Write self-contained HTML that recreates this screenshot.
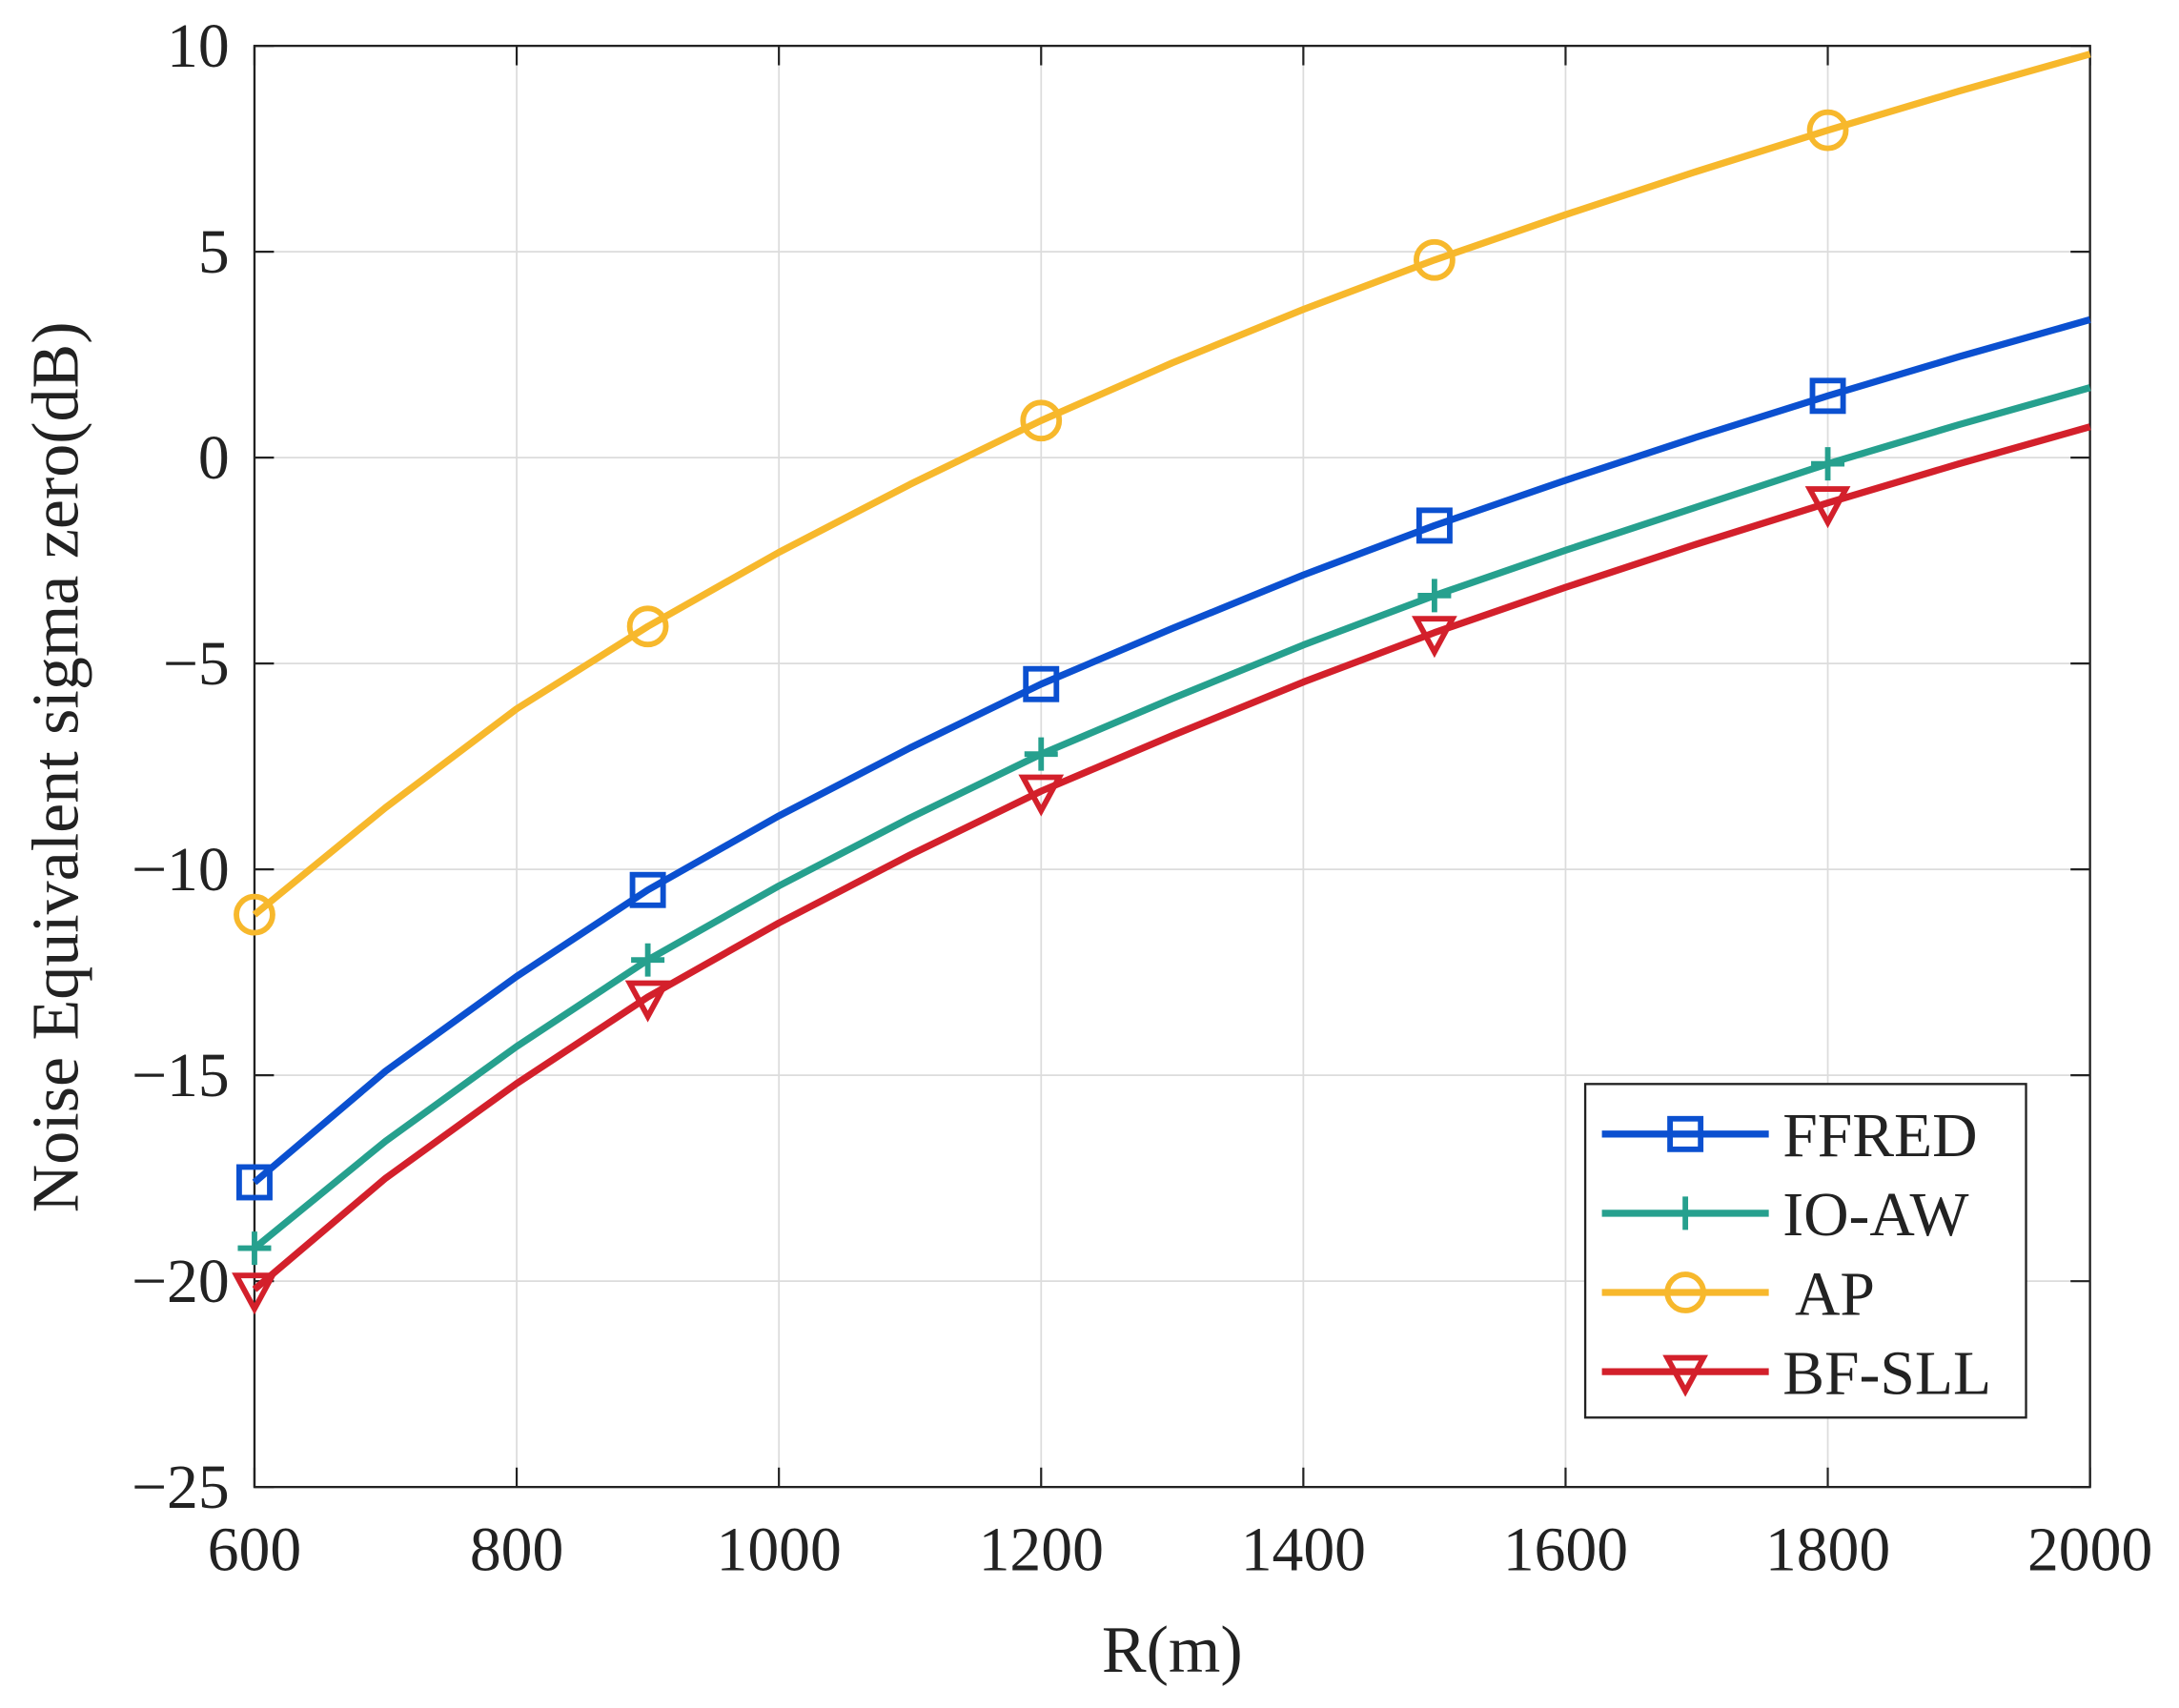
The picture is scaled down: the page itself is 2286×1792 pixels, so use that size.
<!DOCTYPE html><html><head><meta charset="utf-8"><style>body{margin:0;background:#fff}svg{display:block}</style></head><body>
<svg id="s" width="2286" height="1792" viewBox="0 0 1567 1229" preserveAspectRatio="none" xmlns="http://www.w3.org/2000/svg" font-family="Liberation Serif, serif"></svg>
<script>
const s=document.getElementById('s');let h='';
const X=v=>183+(v-600)/1400*1320, Y=v=>33+(10-v)/35*1037;
h+='<rect x="183" y="33" width="1320" height="1037" fill="#fff"/>';
for(let x=600;x<=2000;x+=200){h+=`<line x1="${X(x)}" x2="${X(x)}" y1="33" y2="1070" stroke="#dcdcdc" stroke-width="1.2"/>`;
h+=`<line x1="${X(x)}" x2="${X(x)}" y1="1070" y2="1056" stroke="#222" stroke-width="1.5"/><line x1="${X(x)}" x2="${X(x)}" y1="33" y2="47" stroke="#222" stroke-width="1.5"/>`;
h+=`<text x="${X(x)}" y="1130" font-size="45" text-anchor="middle" fill="#222">${x}</text>`;}
for(let y=-25;y<=10;y+=5){h+=`<line x1="183" x2="1503" y1="${Y(y)}" y2="${Y(y)}" stroke="#dcdcdc" stroke-width="1.2"/>`;
h+=`<line x1="183" x2="197" y1="${Y(y)}" y2="${Y(y)}" stroke="#222" stroke-width="1.5"/><line x1="1503" x2="1489" y1="${Y(y)}" y2="${Y(y)}" stroke="#222" stroke-width="1.5"/>`;
h+=`<text x="165" y="${Y(y)+15}" font-size="45" text-anchor="end" fill="#222">${y<0?'\u2212'+(-y):y}</text>`;}
h+='<rect x="183" y="33" width="1320" height="1037" fill="none" stroke="#222" stroke-width="1.6"/>';
const xs=[600,700,800,900,1000,1100,1200,1300,1400,1500,1600,1700,1800,1900,2000];
const D=[
['#f7b82c','c',[-11.1,-8.5,-6.1,-4.1,-2.3,-0.65,0.9,2.3,3.6,4.8,5.9,6.95,7.95,8.9,9.8]],
['#0b50d0','s',[-17.6,-14.9,-12.6,-10.5,-8.7,-7.05,-5.5,-4.15,-2.85,-1.65,-0.55,0.5,1.5,2.45,3.35]],
['#26a08e','p',[-19.2,-16.6,-14.3,-12.2,-10.4,-8.75,-7.2,-5.85,-4.55,-3.35,-2.25,-1.2,-0.15,0.8,1.7]],
['#d3202b','t',[-20.2,-17.5,-15.2,-13.1,-11.3,-9.65,-8.1,-6.75,-5.45,-4.25,-3.15,-2.1,-1.1,-0.15,0.75]]];
function mk(t,x,y,c){if(t=='c')return `<circle cx="${x}" cy="${y}" r="13" fill="none" stroke="${c}" stroke-width="4"/>`;
if(t=='s')return `<rect x="${x-11}" y="${y-11}" width="22" height="22" fill="none" stroke="${c}" stroke-width="4"/>`;
if(t=='p')return `<path d="M${x-12} ${y}H${x+12}M${x} ${y-12}V${y+12}" stroke="${c}" stroke-width="4"/>`;
return `<path d="M${x-13} ${y-10}H${x+13}L${x} ${y+14}Z" fill="none" stroke="${c}" stroke-width="4"/>`;}
for(const [c,t,v] of D){h+=`<polyline fill="none" stroke="${c}" stroke-width="5" stroke-linejoin="round" points="${xs.map((x,i)=>X(x)+','+Y(v[i])).join(' ')}"/>`;
for(const m of [0,3,6,9,12])h+=mk(t,X(xs[m]),Y(v[m]),c);}
h+='<rect x="1140" y="780" width="317" height="240" fill="#fff" stroke="#222" stroke-width="1.6"/>';
const L=[['FFRED','#0b50d0','s'],['IO-AW','#26a08e','p'],[' AP','#f7b82c','c'],['BF-SLL','#d3202b','t']];
L.forEach((l,i)=>{const y=816+i*57;h+=`<line x1="1152" x2="1272" y1="${y}" y2="${y}" stroke="${l[1]}" stroke-width="5"/>`+mk(l[2],1212,y,l[1])+`<text x="1282" y="${y+16}" font-size="45" fill="#222" xml:space="preserve">${l[0]}</text>`;});
h+='<text x="843" y="1203" font-size="48" text-anchor="middle" fill="#222">R(m)</text>';
h+='<text transform="translate(56,552) rotate(-90)" font-size="48" text-anchor="middle" fill="#222">Noise Equivalent sigma zero(dB)</text>';
s.innerHTML=h;
</script></body></html>
